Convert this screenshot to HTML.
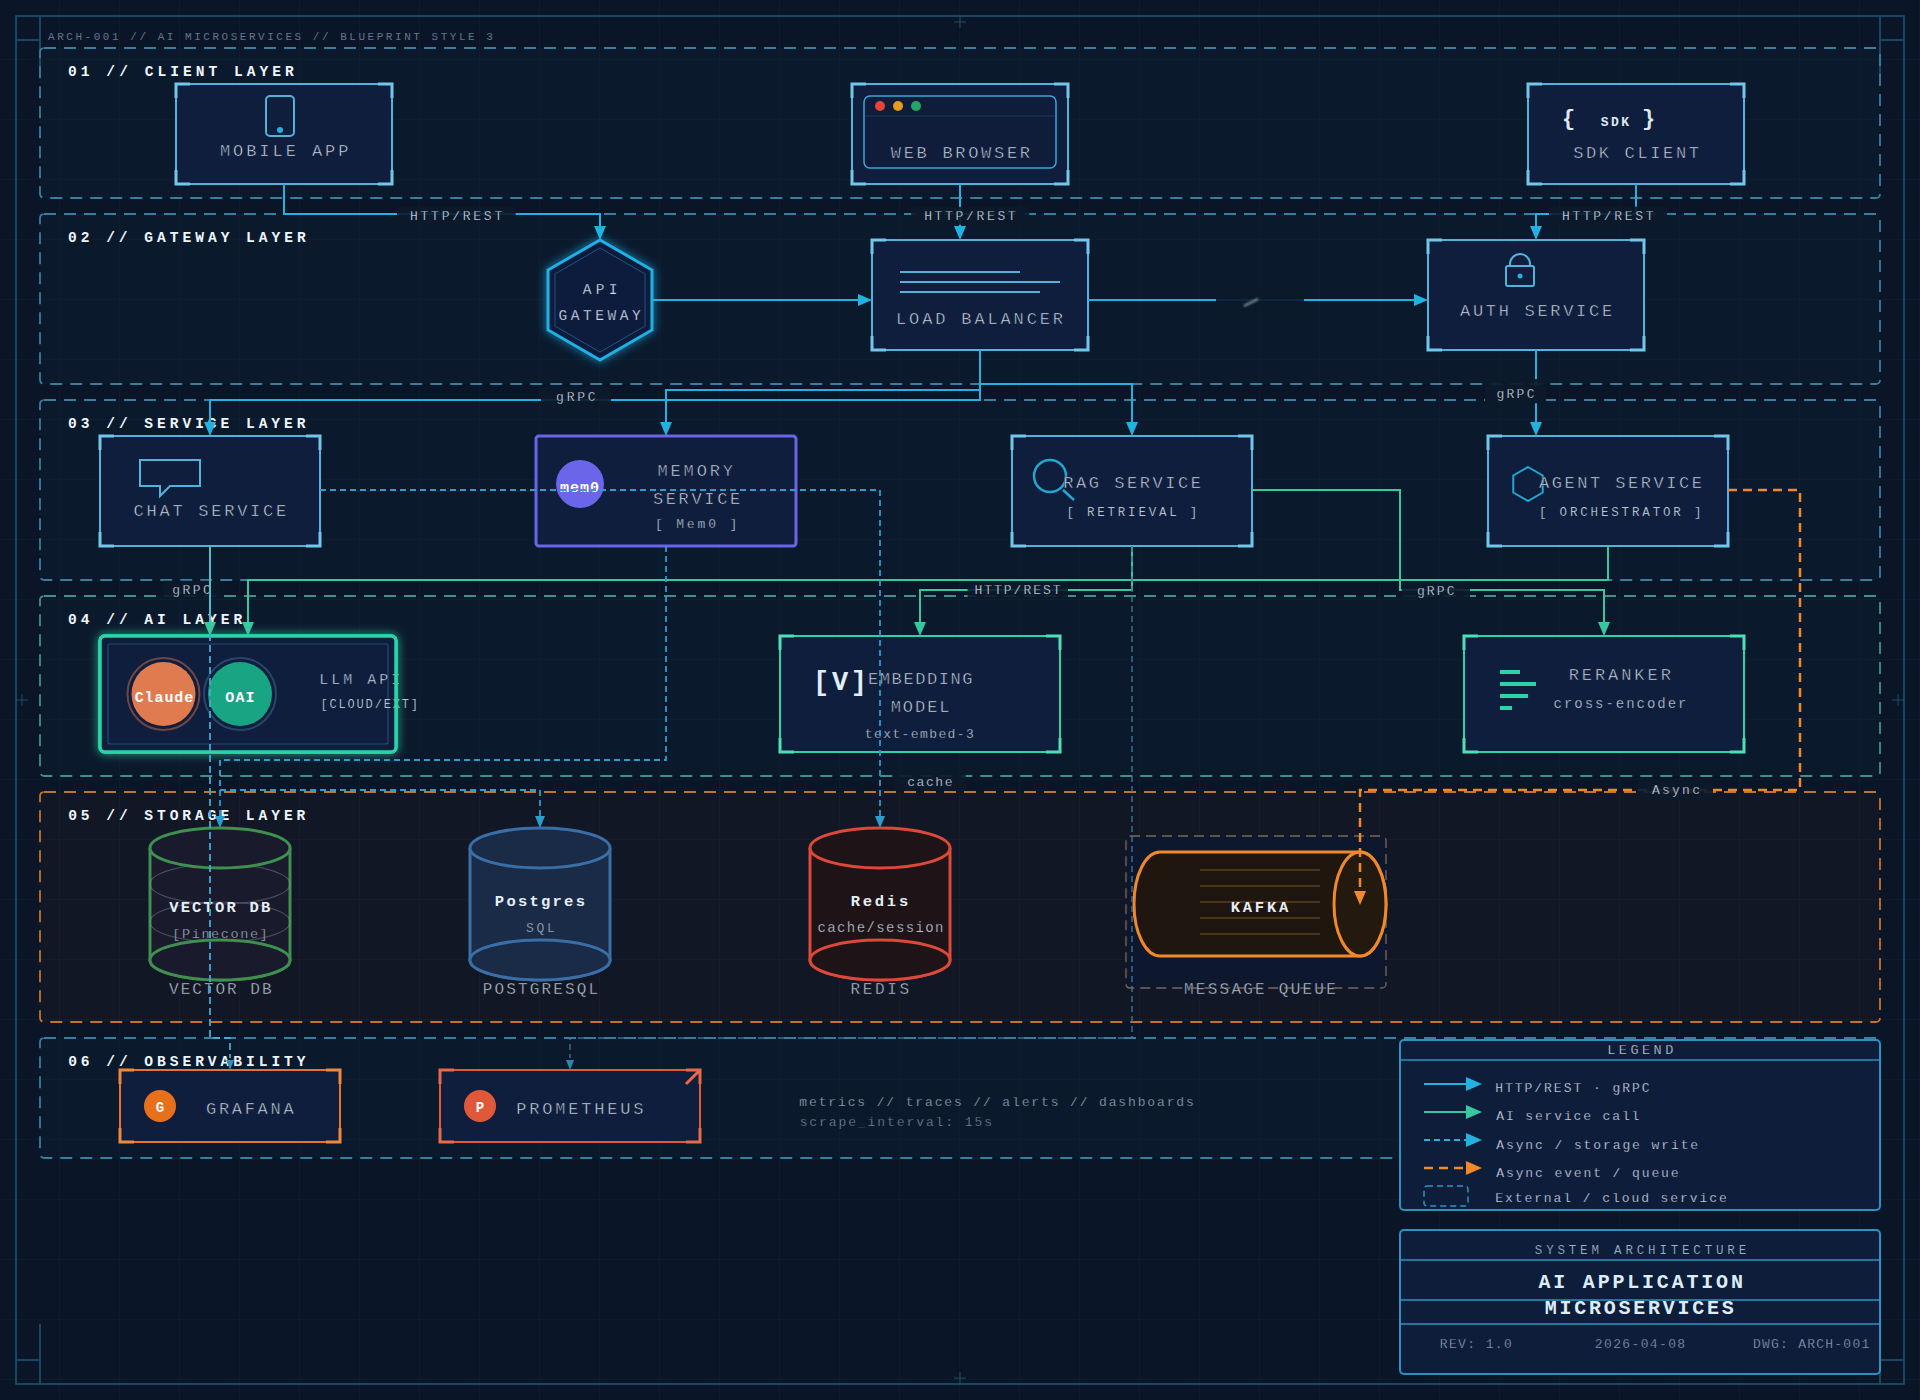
<!DOCTYPE html><html><head><meta charset="utf-8"><style>html,body{margin:0;padding:0;background:#0a1628;width:1920px;height:1400px;overflow:hidden}text{font-family:"Liberation Mono",monospace}</style></head><body><svg width="1920" height="1400" viewBox="0 0 1920 1400" style="display:block;font-family:'Liberation Mono', monospace">
<defs><pattern id="grid" width="60" height="60" patternUnits="userSpaceOnUse"><path d="M60,0 V60 M0,60 H60" fill="none" stroke="#101f33" stroke-width="1"/></pattern><filter id="glow" x="-30%" y="-30%" width="160%" height="160%"><feGaussianBlur stdDeviation="5" result="b"/><feMerge><feMergeNode in="b"/><feMergeNode in="SourceGraphic"/></feMerge></filter></defs>
<rect width="1920" height="1400" fill="#0a1628"/>
<rect width="1920" height="1400" fill="url(#grid)"/>
<rect x="16" y="16" width="1888" height="1368" fill="none" stroke="#1f5a76" stroke-width="1.5"/>
<path d="M40,16 V76 M16,40 H40 M1880,16 V76 M1880,40 H1904 M40,1384 V1324 M16,1360 H40 M1880,1384 V1324 M1880,1360 H1904" stroke="#1f5a76" stroke-width="1.5" fill="none"/>
<path d="M954,22 H966 M960,16 V28 M954,1378 H966 M960,1372 V1384 M16,700 H28 M22,694 V706 M1892,700 H1904 M1898,694 V706" stroke="#1f5a76" stroke-width="1" fill="none" opacity="0.8"/>
<text x="48.1" y="40" font-size="11" fill="#64748a" text-anchor="start" font-weight="normal" letter-spacing="2.528" >ARCH-001 // AI MICROSERVICES // BLUEPRINT STYLE 3</text>
<rect x="40" y="48" width="1840" height="150" rx="4" fill="rgba(30,100,130,0.05)" stroke="#3a7d9c" stroke-width="1.8" stroke-dasharray="12 8"/>
<rect x="40" y="214" width="1840" height="170" rx="4" fill="rgba(30,100,130,0.05)" stroke="#3a7d9c" stroke-width="1.8" stroke-dasharray="12 8"/>
<rect x="40" y="400" width="1840" height="180" rx="4" fill="rgba(30,100,130,0.05)" stroke="#3a7d9c" stroke-width="1.8" stroke-dasharray="12 8"/>
<rect x="40" y="596" width="1840" height="180" rx="4" fill="rgba(30,100,130,0.05)" stroke="#3f9188" stroke-width="1.8" stroke-dasharray="12 8"/>
<rect x="40" y="792" width="1840" height="230" rx="4" fill="rgba(70,35,25,0.14)" stroke="#c4732c" stroke-width="1.8" stroke-dasharray="12 8"/>
<rect x="40" y="1038" width="1840" height="120" rx="4" fill="rgba(30,100,130,0.05)" stroke="#3a7d9c" stroke-width="1.8" stroke-dasharray="12 8"/>
<text x="68.07" y="76" font-size="14.6" fill="#eef5fb" text-anchor="start" font-weight="bold" letter-spacing="4.008" >01 // CLIENT LAYER</text>
<text x="67.97" y="242" font-size="14.6" fill="#eef5fb" text-anchor="start" font-weight="bold" letter-spacing="3.966" >02 // GATEWAY LAYER</text>
<text x="68.07" y="428" font-size="14.6" fill="#eef5fb" text-anchor="start" font-weight="bold" letter-spacing="3.949" >03 // SERVICE LAYER</text>
<text x="68.07" y="624" font-size="14.6" fill="#eef5fb" text-anchor="start" font-weight="bold" letter-spacing="3.961" >04 // AI LAYER</text>
<text x="68.17" y="820" font-size="14.6" fill="#eef5fb" text-anchor="start" font-weight="bold" letter-spacing="3.932" >05 // STORAGE LAYER</text>
<text x="68.17" y="1066" font-size="14.6" fill="#eef5fb" text-anchor="start" font-weight="bold" letter-spacing="3.944" >06 // OBSERVABILITY</text>
<rect x="176" y="84" width="216" height="100" fill="#0f1e3c" stroke="#52b2dc" stroke-width="2"/>
<path d="M190,84 H176 V98 M378,84 H392 V98 M190,184 H176 V170 M378,184 H392 V170" fill="none" stroke="#72c8ea" stroke-width="3"/>
<rect x="266" y="96" width="28" height="40" rx="4" fill="none" stroke="#52b2dc" stroke-width="2"/>
<circle cx="280" cy="130" r="3" fill="#22b2e0"/>
<text x="219.93" y="156" font-size="17" fill="#d4dce8" text-anchor="start" font-weight="normal" letter-spacing="2.941"  stroke="#0f1e3c" stroke-width="0.55">MOBILE APP</text>
<rect x="852" y="84" width="216" height="100" fill="#0f1e3c" stroke="#52b2dc" stroke-width="2"/>
<path d="M866,84 H852 V98 M1054,84 H1068 V98 M866,184 H852 V170 M1054,184 H1068 V170" fill="none" stroke="#72c8ea" stroke-width="3"/>
<rect x="864" y="96" width="192" height="72" rx="6" fill="#0f1d3a" stroke="#3aa6d6" stroke-width="1.5"/>
<path d="M865,116 H1055" stroke="#1d3a5e" stroke-width="1"/>
<circle cx="880" cy="106" r="5" fill="#e0473a"/><circle cx="898" cy="106" r="5" fill="#e69a1e"/><circle cx="916" cy="106" r="5" fill="#22a866"/>
<text x="890.8" y="158" font-size="17" fill="#d4dce8" text-anchor="start" font-weight="normal" letter-spacing="2.701"  stroke="#0f1e3c" stroke-width="0.55">WEB BROWSER</text>
<rect x="1528" y="84" width="216" height="100" fill="#0f1e3c" stroke="#52b2dc" stroke-width="2"/>
<path d="M1542,84 H1528 V98 M1730,84 H1744 V98 M1542,184 H1528 V170 M1730,184 H1744 V170" fill="none" stroke="#72c8ea" stroke-width="3"/>
<text x="1562" y="125" font-size="22" fill="#dfe8f2" text-anchor="start" font-weight="bold" letter-spacing="0" >{</text>
<text x="1642" y="125" font-size="22" fill="#dfe8f2" text-anchor="start" font-weight="bold" letter-spacing="0" >}</text>
<text x="1600.76" y="125.5" font-size="13" fill="#dfe8f2" text-anchor="start" font-weight="bold" letter-spacing="2.419" >SDK</text>
<text x="1573.14" y="158" font-size="17" fill="#d4dce8" text-anchor="start" font-weight="normal" letter-spacing="2.653"  stroke="#0f1e3c" stroke-width="0.55">SDK CLIENT</text>
<polygon points="600.00,240.00 651.96,270.00 651.96,330.00 600.00,360.00 548.04,330.00 548.04,270.00" fill="#0f1d3e" stroke="#1fb2e6" stroke-width="3" filter="url(#glow)"/>
<polygon points="600.00,248.00 645.03,274.00 645.03,326.00 600.00,352.00 554.97,326.00 554.97,274.00" fill="none" stroke="#24507e" stroke-width="1"/>
<text x="582.8" y="294" font-size="14.5" fill="#d4dce8" text-anchor="start" font-weight="normal" letter-spacing="4.22"  stroke="#0f1e3c" stroke-width="0.25">API</text>
<text x="558.5" y="320" font-size="14.5" fill="#d4dce8" text-anchor="start" font-weight="normal" letter-spacing="3.559"  stroke="#0f1e3c" stroke-width="0.25">GATEWAY</text>
<rect x="872" y="240" width="216" height="110" fill="#0f1e3c" stroke="#52b2dc" stroke-width="2"/>
<path d="M886,240 H872 V254 M1074,240 H1088 V254 M886,350 H872 V336 M1074,350 H1088 V336" fill="none" stroke="#72c8ea" stroke-width="3"/>
<path d="M900,272 H1020 M900,282 H1060 M900,292 H1040" stroke="#52b2dc" stroke-width="2"/>
<text x="896.03" y="324" font-size="17" fill="#d4dce8" text-anchor="start" font-weight="normal" letter-spacing="2.865"  stroke="#0f1e3c" stroke-width="0.55">LOAD BALANCER</text>
<rect x="1428" y="240" width="216" height="110" fill="#0f1e3c" stroke="#52b2dc" stroke-width="2"/>
<path d="M1442,240 H1428 V254 M1630,240 H1644 V254 M1442,350 H1428 V336 M1630,350 H1644 V336" fill="none" stroke="#72c8ea" stroke-width="3"/>
<rect x="1506" y="266" width="28" height="20" rx="2" fill="none" stroke="#52b2dc" stroke-width="2"/>
<path d="M1510,266 V264 A10,10 0 0 1 1530,264 V266" fill="none" stroke="#52b2dc" stroke-width="2"/>
<circle cx="1520" cy="276" r="2.5" fill="#22b2e0"/>
<text x="1460.0" y="316" font-size="17" fill="#d4dce8" text-anchor="start" font-weight="normal" letter-spacing="2.697"  stroke="#0f1e3c" stroke-width="0.55">AUTH SERVICE</text>
<rect x="100" y="436" width="220" height="110" fill="#0f1e3c" stroke="#52b2dc" stroke-width="2"/>
<path d="M114,436 H100 V450 M306,436 H320 V450 M114,546 H100 V532 M306,546 H320 V532" fill="none" stroke="#72c8ea" stroke-width="3"/>
<path d="M140,460 H200 V486 H170 L160,496 V486 H140 Z" fill="none" stroke="#52b2dc" stroke-width="2"/>
<text x="133.56" y="516" font-size="17" fill="#d4dce8" text-anchor="start" font-weight="normal" letter-spacing="2.746"  stroke="#0f1e3c" stroke-width="0.55">CHAT SERVICE</text>
<rect x="536" y="436" width="260" height="110" rx="3" fill="#0f1e3c" stroke="#6a64e6" stroke-width="3"/>
<circle cx="580" cy="484" r="24" fill="#6b65ea"/>
<text x="560.09" y="491.6" font-size="15" fill="#ffffff" text-anchor="start" font-weight="bold" letter-spacing="0.988" >mem0</text>
<text x="657.43" y="476" font-size="17" fill="#d4dce8" text-anchor="start" font-weight="normal" letter-spacing="2.874"  stroke="#0f1e3c" stroke-width="0.55">MEMORY</text>
<text x="652.94" y="504" font-size="17" fill="#d4dce8" text-anchor="start" font-weight="normal" letter-spacing="2.639"  stroke="#0f1e3c" stroke-width="0.55">SERVICE</text>
<text x="654.9" y="528" font-size="13" fill="#bcc6d3" text-anchor="start" font-weight="normal" letter-spacing="2.858"  stroke="#0f1e3c" stroke-width="0.25">[ Mem0 ]</text>
<rect x="1012" y="436" width="240" height="110" fill="#0f1e3c" stroke="#52b2dc" stroke-width="2"/>
<path d="M1026,436 H1012 V450 M1238,436 H1252 V450 M1026,546 H1012 V532 M1238,546 H1252 V532" fill="none" stroke="#72c8ea" stroke-width="3"/>
<circle cx="1050" cy="476" r="16" fill="none" stroke="#22a8d0" stroke-width="2.5"/>
<path d="M1063,490 L1074,500" stroke="#22a8d0" stroke-width="2.5"/>
<text x="1063.16" y="488" font-size="17" fill="#d4dce8" text-anchor="start" font-weight="normal" letter-spacing="2.551"  stroke="#0f1e3c" stroke-width="0.55">RAG SERVICE</text>
<text x="1066.5" y="516" font-size="12.5" fill="#bcc6d3" text-anchor="start" font-weight="normal" letter-spacing="2.767"  stroke="#0f1e3c" stroke-width="0.15">[ RETRIEVAL ]</text>
<rect x="1488" y="436" width="240" height="110" fill="#0f1e3c" stroke="#52b2dc" stroke-width="2"/>
<path d="M1502,436 H1488 V450 M1714,436 H1728 V450 M1502,546 H1488 V532 M1714,546 H1728 V532" fill="none" stroke="#72c8ea" stroke-width="3"/>
<polygon points="1528.00,467.00 1542.72,475.50 1542.72,492.50 1528.00,501.00 1513.28,492.50 1513.28,475.50" fill="none" stroke="#22a8d0" stroke-width="2"/>
<text x="1539.0" y="488" font-size="17" fill="#d4dce8" text-anchor="start" font-weight="normal" letter-spacing="2.522"  stroke="#0f1e3c" stroke-width="0.55">AGENT SERVICE</text>
<text x="1538.9" y="516" font-size="12.5" fill="#bcc6d3" text-anchor="start" font-weight="normal" letter-spacing="2.84"  stroke="#0f1e3c" stroke-width="0.15">[ ORCHESTRATOR ]</text>
<rect x="100" y="636" width="296" height="116" rx="5" fill="#0f1e3c" stroke="#2ad4a6" stroke-width="3.5" filter="url(#glow)"/>
<rect x="100" y="636" width="296" height="116" rx="5" fill="#0f1e3c"/>
<rect x="108" y="644" width="280" height="100" rx="2" fill="none" stroke="#2a4a6c" stroke-width="1.2"/>
<circle cx="163.5" cy="694" r="36" fill="none" stroke="#6e4646" stroke-width="2"/>
<circle cx="163.5" cy="694" r="32" fill="#e07b50"/>
<text x="134.71" y="701.6" font-size="15" fill="#ffffff" text-anchor="start" font-weight="bold" letter-spacing="0.902" >Claude</text>
<circle cx="240" cy="694" r="36" fill="none" stroke="#27476a" stroke-width="2"/>
<circle cx="240" cy="694" r="32" fill="#17a583"/>
<text x="225.37" y="701.6" font-size="15" fill="#ffffff" text-anchor="start" font-weight="bold" letter-spacing="1.083" >OAI</text>
<text x="319.26" y="684" font-size="15" fill="#d4dce8" text-anchor="start" font-weight="normal" letter-spacing="3.003"  stroke="#0f1e3c" stroke-width="0.4">LLM API</text>
<text x="320.4" y="708" font-size="12" fill="#bcc6d3" text-anchor="start" font-weight="normal" letter-spacing="1.84"  stroke="#0f1e3c" stroke-width="0.15">[CLOUD/EXT]</text>
<rect x="100" y="636" width="296" height="116" rx="5" fill="none" stroke="#2ad4a6" stroke-width="3.5"/>
<rect x="780" y="636" width="280" height="116" fill="#0f1e3c" stroke="#2ad4a6" stroke-width="2"/>
<path d="M794,636 H780 V650 M1046,636 H1060 V650 M794,752 H780 V738 M1046,752 H1060 V738" fill="none" stroke="#4fe0b5" stroke-width="3"/>
<text x="813.08" y="690" font-size="27" fill="#e2eef8" text-anchor="start" font-weight="bold" letter-spacing="2.614" >[V]</text>
<text x="868.06" y="684.2" font-size="17" fill="#d4dce8" text-anchor="start" font-weight="normal" letter-spacing="1.584"  stroke="#0f1e3c" stroke-width="0.55">EMBEDDING</text>
<text x="890.63" y="712.3" font-size="17" fill="#d4dce8" text-anchor="start" font-weight="normal" letter-spacing="1.983"  stroke="#0f1e3c" stroke-width="0.55">MODEL</text>
<text x="864.79" y="737.7" font-size="13" fill="#bcc6d3" text-anchor="start" font-weight="normal" letter-spacing="1.401"  stroke="#0f1e3c" stroke-width="0.25">text-embed-3</text>
<rect x="1464" y="636" width="280" height="116" fill="#0f1e3c" stroke="#2ad4a6" stroke-width="2"/>
<path d="M1478,636 H1464 V650 M1730,636 H1744 V650 M1478,752 H1464 V738 M1730,752 H1744 V738" fill="none" stroke="#4fe0b5" stroke-width="3"/>
<path d="M1500,672 H1520 M1500,684 H1536 M1500,696 H1528 M1500,708 H1512" stroke="#2ad4a6" stroke-width="4"/>
<text x="1568.66" y="680" font-size="17" fill="#d4dce8" text-anchor="start" font-weight="normal" letter-spacing="2.938"  stroke="#0f1e3c" stroke-width="0.55">RERANKER</text>
<text x="1553.61" y="708" font-size="14" fill="#bcc6d3" text-anchor="start" font-weight="normal" letter-spacing="1.969"  stroke="#0f1e3c" stroke-width="0.25">cross-encoder</text>
<path d="M150,848 V960 A70,20 0 0 0 290,960 V848" fill="#191a2c" stroke="#3f8f4f" stroke-width="3"/>
<ellipse cx="220" cy="884" rx="70" ry="20" fill="none" stroke="#8a90a0" stroke-width="1.2" opacity="0.4"/>
<ellipse cx="220" cy="922" rx="70" ry="20" fill="none" stroke="#8a90a0" stroke-width="1.2" opacity="0.4"/>
<ellipse cx="220" cy="960" rx="70" ry="20" fill="#191a2c" stroke="#3f8f4f" stroke-width="3"/>
<ellipse cx="220" cy="848" rx="70" ry="20" fill="#191a2c" stroke="#3f8f4f" stroke-width="3"/>
<text x="169.18" y="912" font-size="15.5" fill="#e6eef6" text-anchor="start" font-weight="bold" letter-spacing="2.167" >VECTOR DB</text>
<text x="172.3" y="938" font-size="13.5" fill="#a0aab8" text-anchor="start" font-weight="normal" letter-spacing="1.601"  stroke="#191a2c" stroke-width="0.25">[Pinecone]</text>
<text x="169.12" y="994" font-size="16" fill="#bcc6d3" text-anchor="start" font-weight="normal" letter-spacing="1.996"  stroke="#121a29" stroke-width="0.4">VECTOR DB</text>
<path d="M470,848 V960 A70,20 0 0 0 610,960 V848" fill="#1a2b48" stroke="#3a6ea6" stroke-width="3"/>
<ellipse cx="540" cy="960" rx="70" ry="20" fill="#1a2b48" stroke="#3a6ea6" stroke-width="3"/>
<ellipse cx="540" cy="848" rx="70" ry="20" fill="#1a2b48" stroke="#3a6ea6" stroke-width="3"/>
<text x="494.87" y="906" font-size="15.5" fill="#e6eef6" text-anchor="start" font-weight="bold" letter-spacing="2.238" >Postgres</text>
<text x="526.1" y="932" font-size="13" fill="#a0acbc" text-anchor="start" font-weight="normal" letter-spacing="2.658"  stroke="#1a2b48" stroke-width="0.25">SQL</text>
<text x="482.73" y="994" font-size="16" fill="#bcc6d3" text-anchor="start" font-weight="normal" letter-spacing="2.14"  stroke="#121a29" stroke-width="0.4">POSTGRESQL</text>
<path d="M810,848 V960 A70,20 0 0 0 950,960 V848" fill="#1e1418" stroke="#de4838" stroke-width="3"/>
<ellipse cx="880" cy="960" rx="70" ry="20" fill="#1e1418" stroke="#de4838" stroke-width="3"/>
<ellipse cx="880" cy="848" rx="70" ry="20" fill="#1e1418" stroke="#de4838" stroke-width="3"/>
<text x="850.66" y="906" font-size="15.5" fill="#e6eef6" text-anchor="start" font-weight="bold" letter-spacing="2.769" >Redis</text>
<text x="817.41" y="932" font-size="14" fill="#bcc6d3" text-anchor="start" font-weight="normal" letter-spacing="1.408"  stroke="#1e1418" stroke-width="0.25">cache/session</text>
<text x="850.43" y="994" font-size="16" fill="#bcc6d3" text-anchor="start" font-weight="normal" letter-spacing="2.662"  stroke="#121a29" stroke-width="0.4">REDIS</text>
<rect x="1126" y="836" width="260" height="152" rx="4" fill="#0d182f" stroke="#7a6852" stroke-width="1.3" stroke-dasharray="10 6"/>
<path d="M1160,852 H1360 A26,52 0 0 1 1360,956 H1160 A26,52 0 0 1 1160,852 Z" fill="#1e160f" stroke="#f0892a" stroke-width="3"/>
<ellipse cx="1360" cy="904" rx="26" ry="52" fill="#24190f" stroke="#f0892a" stroke-width="3"/>
<path d="M1200,870 H1320 M1200,886 H1320 M1200,902 H1320 M1200,918 H1320 M1200,934 H1320" stroke="#7a5228" stroke-width="1.2"/>
<text x="1230.67" y="912" font-size="15.5" fill="#e6eef6" text-anchor="start" font-weight="bold" letter-spacing="2.78" >KAFKA</text>
<text x="1183.99" y="994" font-size="16" fill="#bcc6d3" text-anchor="start" font-weight="normal" letter-spacing="2.252"  stroke="#0d182f" stroke-width="0.4">MESSAGE QUEUE</text>
<rect x="120" y="1070" width="220" height="72" fill="#0f1e3c" stroke="#e8742a" stroke-width="2"/>
<path d="M134,1070 H120 V1084 M326,1070 H340 V1084 M134,1142 H120 V1128 M326,1142 H340 V1128" fill="none" stroke="#f08a3a" stroke-width="3"/>
<circle cx="160" cy="1106" r="16" fill="#e8701a"/>
<text x="155.8" y="1112" font-size="14" fill="#ffffff" text-anchor="start" font-weight="bold" letter-spacing="0" >G</text>
<text x="206.06" y="1114" font-size="17" fill="#d4dce8" text-anchor="start" font-weight="normal" letter-spacing="2.689"  stroke="#0f1e3c" stroke-width="0.55">GRAFANA</text>
<rect x="440" y="1070" width="260" height="72" fill="#0f1e3c" stroke="#e05a3a" stroke-width="2"/>
<path d="M454,1070 H440 V1084 M686,1070 H700 V1084 M454,1142 H440 V1128 M686,1142 H700 V1128" fill="none" stroke="#e86a48" stroke-width="3"/>
<path d="M686,1084 L700,1070" stroke="#e86a48" stroke-width="3"/>
<circle cx="480" cy="1106" r="16" fill="#e0583a"/>
<text x="475.8" y="1112" font-size="14" fill="#ffffff" text-anchor="start" font-weight="bold" letter-spacing="0" >P</text>
<text x="516.36" y="1114" font-size="17" fill="#d4dce8" text-anchor="start" font-weight="normal" letter-spacing="2.796"  stroke="#0f1e3c" stroke-width="0.55">PROMETHEUS</text>
<text x="799.37" y="1106" font-size="13" fill="#98a6b8" text-anchor="start" font-weight="normal" letter-spacing="1.864"  stroke="#0b1a2c" stroke-width="0.25">metrics // traces // alerts // dashboards</text>
<text x="799.64" y="1125.5" font-size="13" fill="#75859a" text-anchor="start" font-weight="normal" letter-spacing="1.911"  stroke="#0b1a2c" stroke-width="0.25">scrape_interval: 15s</text>
<path d="M284,184 V214 H600 V226" fill="none" stroke="#22b2e0" stroke-width="2" opacity="1" stroke-linejoin="miter"/>
<polygon points="594.0,226 606.0,226 600,240" fill="#22b2e0"/>
<path d="M960,184 V226" fill="none" stroke="#22b2e0" stroke-width="2" opacity="1" stroke-linejoin="miter"/>
<polygon points="954.0,226 966.0,226 960,240" fill="#22b2e0"/>
<path d="M1636,184 V214 H1536 V226" fill="none" stroke="#22b2e0" stroke-width="2" opacity="1" stroke-linejoin="miter"/>
<polygon points="1530.0,226 1542.0,226 1536,240" fill="#22b2e0"/>
<path d="M652,300 H858" fill="none" stroke="#22b2e0" stroke-width="2" opacity="1" stroke-linejoin="miter"/>
<polygon points="858,294.0 858,306.0 872,300" fill="#22b2e0"/>
<path d="M1088,300 H1414" fill="none" stroke="#22b2e0" stroke-width="2" opacity="1" stroke-linejoin="miter"/>
<polygon points="1414,294.0 1414,306.0 1428,300" fill="#22b2e0"/>
<path d="M980,350 V400 H210 V422" fill="none" stroke="#22b2e0" stroke-width="2" opacity="1" stroke-linejoin="miter"/>
<polygon points="204.0,422 216.0,422 210,436" fill="#22b2e0"/>
<path d="M980,350 V390 H666 V422" fill="none" stroke="#22b2e0" stroke-width="2" opacity="1" stroke-linejoin="miter"/>
<polygon points="660.0,422 672.0,422 666,436" fill="#22b2e0"/>
<path d="M980,350 V384 H1132 V422" fill="none" stroke="#22b2e0" stroke-width="2" opacity="1" stroke-linejoin="miter"/>
<polygon points="1126.0,422 1138.0,422 1132,436" fill="#22b2e0"/>
<path d="M1536,350 V422" fill="none" stroke="#22b2e0" stroke-width="2" opacity="1" stroke-linejoin="miter"/>
<polygon points="1530.0,422 1542.0,422 1536,436" fill="#22b2e0"/>
<path d="M1608,546 V580 H248 V622" fill="none" stroke="#36c9a0" stroke-width="2" opacity="1" stroke-linejoin="miter"/>
<polygon points="242.0,622 254.0,622 248,636" fill="#36c9a0"/>
<path d="M1132,546 V590 H920 V622" fill="none" stroke="#36c9a0" stroke-width="2" opacity="1" stroke-linejoin="miter"/>
<polygon points="914.0,622 926.0,622 920,636" fill="#36c9a0"/>
<path d="M1252,490 H1400 V590 H1604 V622" fill="none" stroke="#36c9a0" stroke-width="2" opacity="1" stroke-linejoin="miter"/>
<polygon points="1598.0,622 1610.0,622 1604,636" fill="#36c9a0"/>
<path d="M320,490 H880 V816" fill="none" stroke="#2e9ccc" stroke-width="1.8" stroke-dasharray="6 4" opacity="1" stroke-linejoin="miter"/>
<polygon points="875.0,816 885.0,816 880,828" fill="#2e9ccc"/>
<path d="M666,546 V760 H220 V816" fill="none" stroke="#2e9ccc" stroke-width="1.8" stroke-dasharray="6 4" opacity="1" stroke-linejoin="miter"/>
<polygon points="215.0,816 225.0,816 220,828" fill="#2e9ccc"/>
<path d="M220,760 V790 H540 V816" fill="none" stroke="#2e9ccc" stroke-width="1.8" stroke-dasharray="6 4" opacity="1" stroke-linejoin="miter"/>
<polygon points="535.0,816 545.0,816 540,828" fill="#2e9ccc"/>
<path d="M210,546 V1038 H230 V1058" fill="none" stroke="#44aad4" stroke-width="1.8" stroke-dasharray="7 4" opacity="1" stroke-linejoin="miter"/>
<polygon points="226.0,1060 234.0,1060 230,1070" fill="#3a8cb0"/>
<path d="M1132,546 V1038 H570 V1058" fill="none" stroke="#3f7896" stroke-width="1.5" stroke-dasharray="6 4" opacity="0.9" stroke-linejoin="miter"/>
<polygon points="566.0,1060 574.0,1060 570,1070" fill="#2f86aa"/>
<path d="M1728,490 H1800 V790 H1360 V890" fill="none" stroke="#f0892a" stroke-width="2.5" stroke-dasharray="9 6" opacity="1" stroke-linejoin="miter"/>
<polygon points="1354.0,891 1366.0,891 1360,905" fill="#f0892a"/>
<rect x="397" y="207" width="118.69999999999999" height="18" fill="#0b192b" opacity="0.9"/>
<text x="409.97" y="220" font-size="13" fill="#d0d8e3" text-anchor="start" font-weight="normal" letter-spacing="2.751"  stroke="#0b192b" stroke-width="0.25">HTTP/REST</text>
<rect x="911.2" y="206.8" width="118.0" height="18" fill="#0b192b" opacity="0.9"/>
<text x="924.17" y="219.8" font-size="13" fill="#d0d8e3" text-anchor="start" font-weight="normal" letter-spacing="2.663"  stroke="#0b192b" stroke-width="0.25">HTTP/REST</text>
<rect x="1549" y="206.6" width="118" height="18" fill="#0b192b" opacity="0.9"/>
<text x="1561.97" y="219.6" font-size="13" fill="#d0d8e3" text-anchor="start" font-weight="normal" letter-spacing="2.663"  stroke="#0b192b" stroke-width="0.25">HTTP/REST</text>
<rect x="1216" y="287" width="88" height="22" fill="#0b192b" opacity="0.9"/>
<defs><filter id="smear" x="-50%" y="-50%" width="200%" height="200%"><feGaussianBlur stdDeviation="1.2"/></filter></defs>
<path d="M1244,306 L1258,299" stroke="#aeb8c6" stroke-width="2.2" opacity="0.7" filter="url(#smear)"/>
<rect x="541" y="387.5" width="70" height="18" fill="#0b192b" opacity="0.9"/>
<text x="556.09" y="400.5" font-size="13" fill="#d0d8e3" text-anchor="start" font-weight="normal" letter-spacing="2.752"  stroke="#0b192b" stroke-width="0.25">gRPC</text>
<rect x="1485" y="379" width="61" height="24" fill="#0b192b" opacity="0.9"/>
<rect x="1485.3" y="385.3" width="60.700000000000045" height="18" fill="#0b192b" opacity="0.9"/>
<text x="1496.39" y="398.3" font-size="13" fill="#d0d8e3" text-anchor="start" font-weight="normal" letter-spacing="2.318"  stroke="#0b192b" stroke-width="0.25">gRPC</text>
<rect x="163.2" y="580.75" width="57.10000000000002" height="18" fill="#0b192b" opacity="0.9"/>
<text x="172.29" y="593.75" font-size="13" fill="#d0d8e3" text-anchor="start" font-weight="normal" letter-spacing="2.452"  stroke="#0b192b" stroke-width="0.25">gRPC</text>
<rect x="967.6" y="581" width="100.39999999999998" height="18" fill="#0b192b" opacity="0.9"/>
<text x="974.57" y="594" font-size="13" fill="#d0d8e3" text-anchor="start" font-weight="normal" letter-spacing="1.963"  stroke="#0b192b" stroke-width="0.25">HTTP/REST</text>
<rect x="1401.8" y="581.7" width="68.20000000000005" height="18" fill="#0b192b" opacity="0.9"/>
<text x="1416.89" y="594.7" font-size="13" fill="#d0d8e3" text-anchor="start" font-weight="normal" letter-spacing="2.152"  stroke="#0b192b" stroke-width="0.25">gRPC</text>
<rect x="894" y="772.6" width="71.70000000000005" height="18" fill="#0b192b" opacity="0.9"/>
<text x="907.17" y="785.6" font-size="13" fill="#d0d8e3" text-anchor="start" font-weight="normal" letter-spacing="1.594"  stroke="#0b192b" stroke-width="0.25">cache</text>
<rect x="1638" y="781" width="75" height="18" fill="#0b192b" opacity="0.9"/>
<text x="1652.0" y="794" font-size="13" fill="#d0d8e3" text-anchor="start" font-weight="normal" letter-spacing="2.235"  stroke="#0b192b" stroke-width="0.25">Async</text>
<path d="M210,546 V622" fill="none" stroke="#4fbfc6" stroke-width="2" opacity="1" stroke-linejoin="miter"/>
<polygon points="204.0,622 216.0,622 210,636" fill="#36c9a0"/>
<rect x="1400" y="1040" width="480" height="170" rx="4" fill="#0e1d3a" stroke="#2d92c2" stroke-width="2"/>
<path d="M1400,1060 H1880" stroke="#2d92c2" stroke-width="1.5"/>
<text x="1607.19" y="1054" font-size="13.5" fill="#c0ccda" text-anchor="start" font-weight="normal" letter-spacing="3.498"  stroke="#0e1d3a" stroke-width="0.25">LEGEND</text>
<path d="M1424,1084 H1466" stroke="#22b2e0" stroke-width="2"/>
<polygon points="1466,1077.0 1466,1091.0 1482,1084" fill="#22b2e0"/>
<path d="M1424,1112 H1466" stroke="#36c9a0" stroke-width="2"/>
<polygon points="1466,1105.0 1466,1119.0 1482,1112" fill="#36c9a0"/>
<path d="M1424,1140 H1466" stroke="#22b2e0" stroke-width="2" stroke-dasharray="6 4"/>
<polygon points="1466,1133.0 1466,1147.0 1482,1140" fill="#22b2e0"/>
<path d="M1424,1168 H1466" stroke="#f0892a" stroke-width="2.5" stroke-dasharray="9 6"/>
<polygon points="1466,1161.0 1466,1175.0 1482,1168" fill="#f0892a"/>
<rect x="1424" y="1186" width="44" height="20" rx="3" fill="none" stroke="#2d92c2" stroke-width="1.5" stroke-dasharray="6 4"/>
<text x="1495.22" y="1091.8" font-size="13" fill="#d0d8e3" text-anchor="start" font-weight="normal" letter-spacing="1.974"  stroke="#0e1d3a" stroke-width="0.25">HTTP/REST · gRPC</text>
<text x="1496.25" y="1120" font-size="13" fill="#d0d8e3" text-anchor="start" font-weight="normal" letter-spacing="1.868"  stroke="#0e1d3a" stroke-width="0.25">AI service call</text>
<text x="1496.25" y="1148.5" font-size="13" fill="#d0d8e3" text-anchor="start" font-weight="normal" letter-spacing="1.904"  stroke="#0e1d3a" stroke-width="0.25">Async / storage write</text>
<text x="1496.25" y="1176.6" font-size="13" fill="#d0d8e3" text-anchor="start" font-weight="normal" letter-spacing="1.896"  stroke="#0e1d3a" stroke-width="0.25">Async event / queue</text>
<text x="1495.22" y="1202" font-size="13" fill="#d0d8e3" text-anchor="start" font-weight="normal" letter-spacing="1.926"  stroke="#0e1d3a" stroke-width="0.25">External / cloud service</text>
<rect x="1400" y="1230" width="480" height="144" rx="4" fill="#0e1d3a" stroke="#2d92c2" stroke-width="2"/>
<path d="M1400,1260 H1880 M1400,1300 H1880 M1400,1324 H1880" stroke="#2d92c2" stroke-width="1.5"/>
<text x="1534.82" y="1254" font-size="12.5" fill="#9cb0c6" text-anchor="start" font-weight="normal" letter-spacing="3.823"  stroke="#0e1d3a" stroke-width="0.15">SYSTEM ARCHITECTURE</text>
<text x="1538.4" y="1288" font-size="20" fill="#dcedf8" text-anchor="start" font-weight="bold" letter-spacing="2.807" >AI APPLICATION</text>
<text x="1544.73" y="1314" font-size="20" fill="#dcedf8" text-anchor="start" font-weight="bold" letter-spacing="2.756" >MICROSERVICES</text>
<text x="1439.77" y="1348" font-size="13" fill="#8a9db4" text-anchor="start" font-weight="normal" letter-spacing="1.374"  stroke="#0e1d3a" stroke-width="0.25">REV: 1.0</text>
<text x="1594.79" y="1348" font-size="13" fill="#8a9db4" text-anchor="start" font-weight="normal" letter-spacing="1.373"  stroke="#0e1d3a" stroke-width="0.25">2026-04-08</text>
<text x="1752.97" y="1348" font-size="13" fill="#8a9db4" text-anchor="start" font-weight="normal" letter-spacing="1.237"  stroke="#0e1d3a" stroke-width="0.25">DWG: ARCH-001</text>
</svg></body></html>
